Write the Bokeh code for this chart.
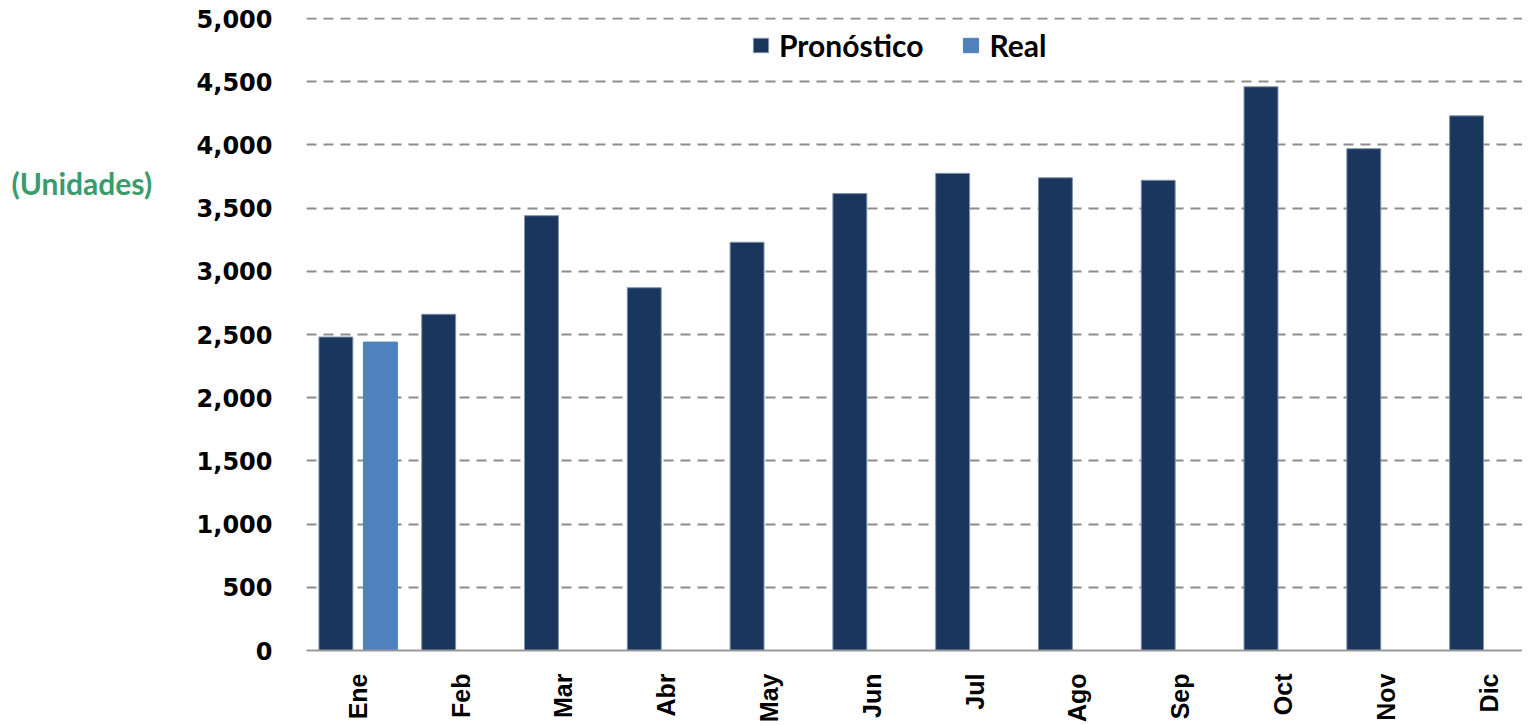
import numpy as np
from bokeh.plotting import figure
from bokeh.layouts import row
from bokeh.models import (ColumnDataSource, Range1d, FixedTicker, NumeralTickFormatter,
                          Legend, LegendItem)
from bokeh.core.properties import value
from bokeh.transform import dodge
from bokeh.embed import file_html
from bokeh.resources import INLINE

months = ["Ene", "Feb", "Mar", "Abr", "May", "Jun", "Jul", "Ago", "Sep", "Oct", "Nov", "Dic"]
pronostico = [2480, 2660, 3440, 2870, 3230, 3615, 3775, 3740, 3720, 4460, 3970, 4230]
real = [2440, np.nan, np.nan, np.nan, np.nan, np.nan, np.nan, np.nan, np.nan, np.nan, np.nan, np.nan]
y_ticks = list(range(0, 5001, 500))
y_title = "(Unidades)"

idx = list(range(len(months)))
src = ColumnDataSource(dict(idx=idx, month=months, pron=pronostico, real=real))

LEFT_W = 160
LEFT_H = 700

# narrow panel holding the horizontal y-axis title
lf = figure(width=LEFT_W, height=LEFT_H, output_backend="svg", toolbar_location=None,
            x_range=Range1d(0, LEFT_W), y_range=Range1d(0, LEFT_H),
            x_axis_type=None, y_axis_type=None, min_border=0)
lf.outline_line_color = None
lf.xgrid.grid_line_color = None
lf.ygrid.grid_line_color = None
lf.text(x=[11], y=[LEFT_H - 190], text=[y_title], text_font=value("Lato"),
        text_font_style="bold", text_font_size="30px", text_color="#3d9b6b",
        text_baseline="middle", text_align="left")

p = figure(frame_width=1216, frame_height=633, output_backend="svg", toolbar_location=None,
           x_range=Range1d(-0.5, 11.33), y_range=Range1d(0, 5008),
           min_border_left=306 - LEFT_W, min_border_right=0, min_border_top=17,
           min_border_bottom=40)
p.outline_line_color = None
p.background_fill_color = "white"

NAVY = "#1b365d"
BLUE = "#4f81bd"

r1 = p.vbar(x=dodge("idx", -0.214, range=p.x_range), top="pron", width=0.33, source=src,
            fill_color=NAVY, line_color="#7f93ad", line_width=1)
r2 = p.vbar(x=dodge("idx", 0.219, range=p.x_range), top="real", width=0.33, source=src,
            fill_color=BLUE, line_color=BLUE, line_width=1)

p.xgrid.grid_line_color = None
p.ygrid.grid_line_color = "#8c8c8c"
p.ygrid.grid_line_width = 2
p.ygrid.grid_line_dash = "10 7"

p.yaxis.ticker = FixedTicker(ticks=y_ticks)
p.yaxis.formatter = NumeralTickFormatter(format="0,0")
p.yaxis.axis_line_color = None
p.yaxis.major_tick_line_color = None
p.yaxis.minor_tick_line_color = None
p.yaxis.major_label_text_font = "DejaVu Sans"
p.yaxis.major_label_text_font_style = "bold"
p.yaxis.major_label_text_font_size = "24px"
p.yaxis.major_label_text_color = "black"
p.yaxis.major_label_standoff = 28

p.xaxis.ticker = FixedTicker(ticks=idx)
p.xaxis.major_label_overrides = {i: m for i, m in zip(idx, months)}
p.xaxis.major_label_orientation = np.pi / 2
p.xaxis.axis_line_color = "#999999"
p.xaxis.axis_line_width = 2
p.xaxis.major_tick_line_color = None
p.xaxis.minor_tick_line_color = None
p.xaxis.major_label_text_font = "Liberation Sans"
p.xaxis.major_label_text_font_style = "bold"
p.xaxis.major_label_text_font_size = "25px"
p.xaxis.major_label_text_color = "black"
p.xaxis.major_label_standoff = 17

legend = Legend(items=[LegendItem(label="Pronóstico", renderers=[r1]),
                       LegendItem(label="Real", renderers=[r2])],
                location=(445, 587), orientation="horizontal")
legend.background_fill_alpha = 0
legend.border_line_color = None
legend.padding = 0
legend.margin = 0
legend.spacing = 38
legend.glyph_width = 19
legend.glyph_height = 18
legend.label_standoff = 9
legend.label_text_font = "Lato"
legend.label_text_font_style = "bold"
legend.label_text_font_size = "30px"
legend.label_text_color = "black"
p.add_layout(legend)

layout = row(lf, p)
open("out.html", "w").write(file_html(layout, INLINE))
